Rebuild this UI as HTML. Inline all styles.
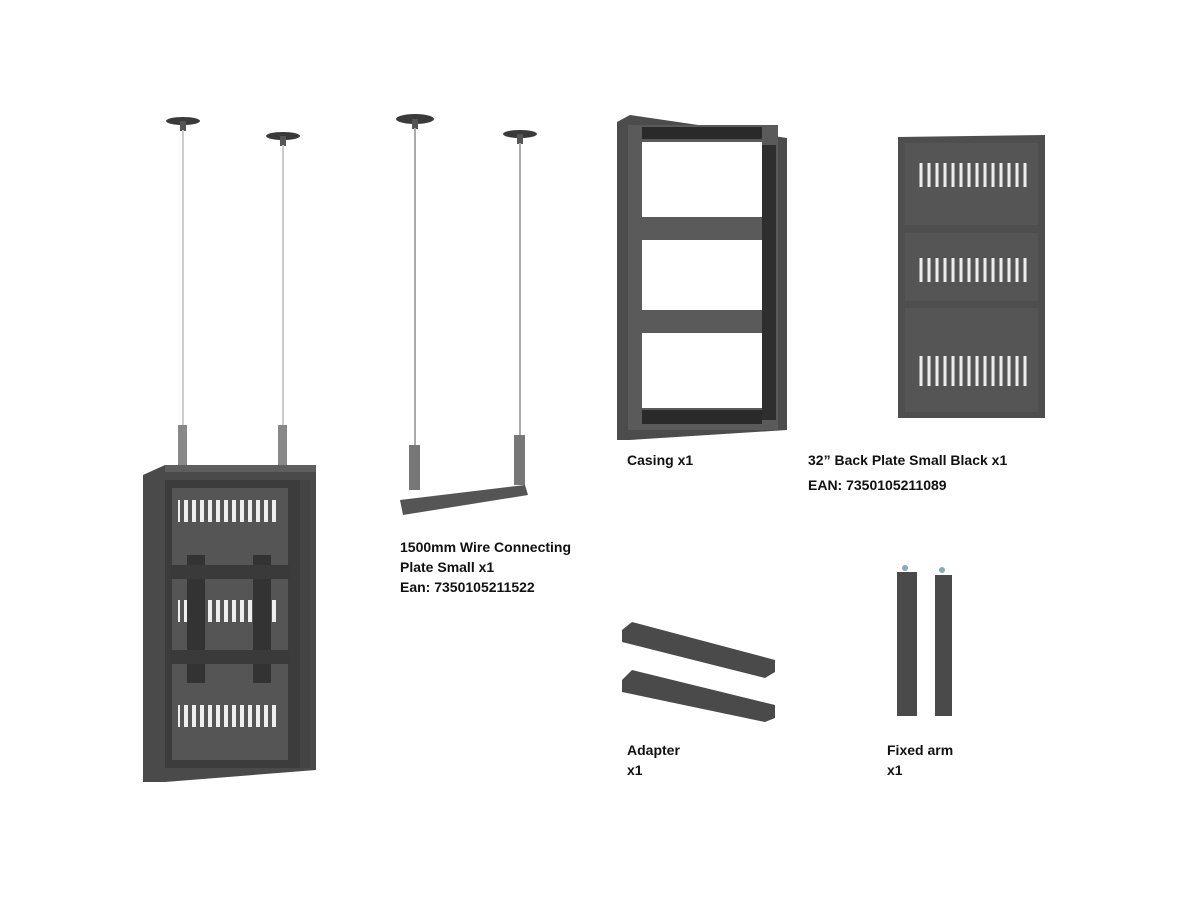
<!DOCTYPE html>
<html><head><meta charset="utf-8"><style>
body{margin:0;background:#fff;width:1200px;height:900px;overflow:hidden;font-family:"Liberation Sans",sans-serif}
.t{position:absolute;font-weight:bold;font-size:14px;color:#111;line-height:20px}
</style></head><body>
<svg width="1200" height="900" style="position:absolute;left:0;top:0">
<!-- left hanging cabinet -->
<g>
<ellipse cx="183" cy="121" rx="17" ry="4" fill="#3a3a3a"/><rect x="180" y="121" width="6" height="10" fill="#555"/>
<ellipse cx="283" cy="136" rx="17" ry="4" fill="#3a3a3a"/><rect x="280" y="136" width="6" height="10" fill="#555"/>
<line x1="183" y1="130" x2="183" y2="425" stroke="#ccc" stroke-width="2"/>
<line x1="283" y1="145" x2="283" y2="425" stroke="#ccc" stroke-width="2"/>
<rect x="178" y="425" width="9" height="40" fill="#888"/><rect x="278" y="425" width="9" height="40" fill="#888"/>
<polygon points="143,475 165,465 316,465 316,770 165,782 143,782" fill="#4a4a4a"/>
<polygon points="165,465 316,465 316,472 165,472" fill="#5e5e5e"/>
<rect x="165" y="480" width="140" height="288" fill="#3c3c3c"/>
<rect x="172" y="488" width="116" height="272" fill="#555"/>
<g fill="#eee"><rect x="178" y="500" width="102" height="22"/><rect x="178" y="600" width="102" height="22"/><rect x="178" y="705" width="102" height="22"/></g>
<g stroke="#555" stroke-width="4"><path d="M182 498v26M190 498v26M198 498v26M206 498v26M214 498v26M222 498v26M230 498v26M238 498v26M246 498v26M254 498v26M262 498v26M270 498v26M278 498v26"/>
<path d="M182 598v26M190 598v26M198 598v26M206 598v26M214 598v26M222 598v26M230 598v26M238 598v26M246 598v26M254 598v26M262 598v26M270 598v26M278 598v26"/>
<path d="M182 703v26M190 703v26M198 703v26M206 703v26M214 703v26M222 703v26M230 703v26M238 703v26M246 703v26M254 703v26M262 703v26M270 703v26M278 703v26"/></g>
<rect x="187" y="555" width="18" height="128" fill="#333"/><rect x="253" y="555" width="18" height="128" fill="#333"/>
<rect x="170" y="565" width="120" height="14" fill="#3a3a3a"/><rect x="170" y="650" width="120" height="14" fill="#3a3a3a"/>
<rect x="300" y="480" width="10" height="288" fill="#444"/>
</g>
<!-- middle wire kit -->
<ellipse cx="415" cy="119" rx="19" ry="5" fill="#3a3a3a"/><rect x="412" y="119" width="6" height="10" fill="#555"/>
<ellipse cx="520" cy="134" rx="17" ry="4" fill="#3a3a3a"/><rect x="517" y="134" width="6" height="10" fill="#555"/>
<line x1="415" y1="128" x2="415" y2="445" stroke="#aaa" stroke-width="2"/>
<line x1="520" y1="143" x2="520" y2="435" stroke="#aaa" stroke-width="2"/>
<rect x="409" y="445" width="11" height="45" fill="#777"/><rect x="514" y="435" width="11" height="50" fill="#777"/>
<polygon points="400,500 525,485 528,495 403,515" fill="#555"/>
<!-- casing -->
<polygon points="617,122 630,115 787,138 787,430 630,440 617,440" fill="#4c4c4c"/>
<rect x="628" y="125" width="150" height="305" fill="#5a5a5a"/>
<rect x="642" y="142" width="120" height="75" fill="#fff"/>
<rect x="642" y="240" width="120" height="70" fill="#fff"/>
<rect x="642" y="333" width="120" height="75" fill="#fff"/>
<rect x="642" y="127" width="120" height="12" fill="#2a2a2a"/><rect x="642" y="410" width="120" height="14" fill="#2a2a2a"/>
<rect x="762" y="145" width="14" height="275" fill="#2e2e2e"/>
<!-- back plate -->
<polygon points="898,137 1045,135 1045,418 898,418" fill="#4e4e4e"/>
<rect x="905" y="143" width="133" height="82" fill="#555"/>
<rect x="905" y="233" width="133" height="68" fill="#555"/>
<rect x="905" y="308" width="133" height="104" fill="#555"/>
<g stroke="#eee" stroke-width="3">
<path d="M921 163v24M929 163v24M937 163v24M945 163v24M953 163v24M961 163v24M969 163v24M977 163v24M985 163v24M993 163v24M1001 163v24M1009 163v24M1017 163v24M1025 163v24"/>
<path d="M921 258v24M929 258v24M937 258v24M945 258v24M953 258v24M961 258v24M969 258v24M977 258v24M985 258v24M993 258v24M1001 258v24M1009 258v24M1017 258v24M1025 258v24"/>
<path d="M921 356v30M929 356v30M937 356v30M945 356v30M953 356v30M961 356v30M969 356v30M977 356v30M985 356v30M993 356v30M1001 356v30M1009 356v30M1017 356v30M1025 356v30"/></g>
<!-- adapters -->
<polygon points="622,630 632,622 775,660 775,672 765,678 622,642" fill="#4a4a4a"/>
<polygon points="622,680 632,670 775,705 775,718 765,722 622,692" fill="#4a4a4a"/>
<!-- fixed arms -->
<rect x="897" y="572" width="20" height="144" fill="#4a4a4a"/>
<rect x="935" y="575" width="17" height="141" fill="#4a4a4a"/>
<circle cx="905" cy="568" r="3" fill="#8ab"/><circle cx="942" cy="570" r="3" fill="#8ab"/>
</svg>
<div class="t" style="left:627px;top:450px">Casing x1</div>
<div class="t" style="left:808px;top:450px">32” Back Plate Small Black x1</div>
<div class="t" style="left:808px;top:475px">EAN: 7350105211089</div>
<div class="t" style="left:400px;top:537px">1500mm Wire Connecting<br>Plate Small x1<br>Ean: 7350105211522</div>
<div class="t" style="left:627px;top:740px">Adapter<br>x1</div>
<div class="t" style="left:887px;top:740px">Fixed arm<br>x1</div>
</body></html>
